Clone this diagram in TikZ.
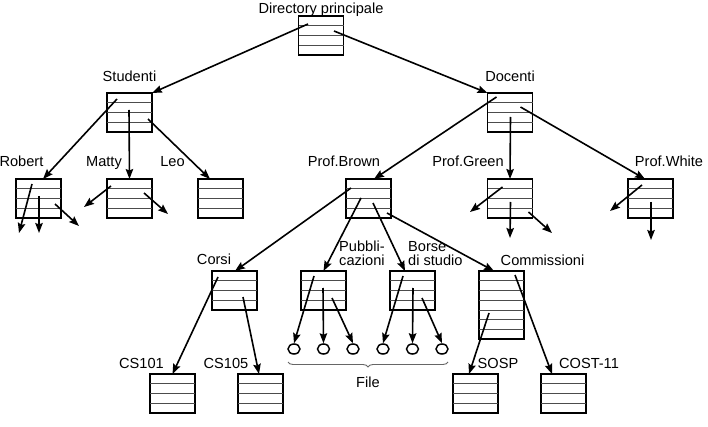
\documentclass[tikz,border=0pt]{standalone}
\usepackage{fontspec}
\setmainfont{Liberation Sans}
\usetikzlibrary{arrows.meta,shapes.geometric,decorations.pathreplacing}
\tikzset{
  dbox/.style={draw, line width=1.9pt, minimum width=45pt, inner sep=0pt, outer sep=0pt, anchor=north},
  rowline/.style={line width=0.9pt, black!70},
  link/.style={line width=1.6pt, -{Stealth[length=10pt,width=7.5pt,inset=1.5pt]}},
  lbl/.style={font=\fontsize{14.6}{14}\selectfont, inner sep=0pt, anchor=base},
  mlbl/.style={font=\fontsize{14.6}{14}\selectfont, inner sep=0pt, anchor=north west, align=left},
  fnode/.style={draw, ellipse, line width=1.5pt, minimum width=12pt, minimum height=10pt, inner sep=0pt},
  bracestyle/.style={decorate, decoration={brace, mirror, amplitude=5pt}, line width=0.9pt, black!60},
}
\newcommand\dirbox[4]{%
  \pgfmathsetmacro\bh{#4*9.75}%
  \node[dbox, minimum height=\bh pt] (#1) at (#2,#3) {};
  \pgfmathtruncatemacro\nrows{#4-1}%
  \foreach \k in {1,...,\nrows}{%
    \pgfmathsetmacro\dy{\k*9.75}%
    \draw[rowline] ([yshift=-\dy pt]#1.north west) -- ([yshift=-\dy pt]#1.north east);
  }%
}
\begin{document}
\begin{tikzpicture}[x=1pt, y=-1pt]
\useasboundingbox (0,0) rectangle (708,427);
% boxes
\dirbox{root}{321}{16}{4}
\dirbox{studenti}{129.5}{93}{4}
\dirbox{docenti}{510}{93}{4}
\dirbox{robert}{38.5}{179}{4}
\dirbox{matty}{129.5}{179}{4}
\dirbox{leo}{220.5}{179}{4}
\dirbox{brown}{368.5}{179}{4}
\dirbox{green}{510}{179}{4}
\dirbox{white}{650.5}{179}{4}
\dirbox{corsi}{234.5}{271}{4}
\dirbox{pubbl}{323.5}{271}{4}
\dirbox{borse}{412.5}{271}{4}
\dirbox{comm}{501.5}{271}{7}
\dirbox{cs101}{172.5}{374}{4}
\dirbox{cs105}{260.5}{374}{4}
\dirbox{sosp}{475.5}{374}{4}
\dirbox{cost}{563.5}{374}{4}
% files
\node[fnode] (f1) at (294,349) {};
\node[fnode] (f2) at (323.5,349) {};
\node[fnode] (f3) at (353,349) {};
\node[fnode] (f4) at (383,349) {};
\node[fnode] (f5) at (412.5,349) {};
\node[fnode] (f6) at (442,349) {};
% labels
\node[lbl] (tdir) at (321,13.5) {Directory principale};
\node[lbl] (tstud) at (129.5,81.5) {Studenti};
\node[lbl] (tdoc) at (510,81.5) {Docenti};
\node[lbl] (trob) at (21.5,167) {Robert};
\node[lbl] (tmat) at (104,167) {Matty};
\node[lbl] (tleo) at (172.5,167) {Leo};
\node[lbl] (tbrown) at (344,167) {Prof.Brown};
\node[lbl] (tgreen) at (468,167) {Prof.Green};
\node[lbl] (twhite) at (669,167) {Prof.White};
\node[lbl] (tcorsi) at (214,265) {Corsi};
\node[mlbl] (tpubbl) at (339,241) {Pubbli-\\cazioni};
\node[mlbl] (tborse) at (408,241) {Borse\\di studio};
\node[lbl] (tcomm) at (542.5,265.5) {Commissioni};
\node[lbl] (tcs101) at (141.5,368) {CS101};
\node[lbl] (tcs105) at (226,368) {CS105};
\node[lbl] (tsosp) at (498,368) {SOSP};
\node[lbl] (tcost) at (589,368) {COST-11};
\node[lbl] (tfile) at (368,387) {File};
% brace
\coordinate (brl) at (288,362);
\coordinate (brr) at (448,362);
\draw[bracestyle] (brl) -- (brr);
% free ends
\coordinate (r1) at (19,233);
\coordinate (r2) at (39,233);
\coordinate (r3) at (79,226);
\coordinate (m1) at (84,207);
\coordinate (m2) at (168,214);
\coordinate (g1) at (470,212);
\coordinate (g2) at (510,238);
\coordinate (g3) at (552,233);
\coordinate (w1) at (610,211);
\coordinate (w2) at (651,240);
% arrows
\draw[link] ([shift={(9.5,8)}]root.north west) -- (studenti.north east);
\draw[link] ([shift={(35.5,15)}]root.north west) -- (docenti.north west);
\draw[link] ([shift={(10,6)}]studenti.north west) -- ([xshift=27pt]robert.north west);
\draw[link] ([shift={(22,17)}]studenti.north west) -- (matty.north);
\draw[link] ([shift={(41,26)}]studenti.north west) -- ([xshift=12pt]leo.north west);
\draw[link] ([shift={(16,5)}]robert.north west) -- (r1);
\draw[link] ([shift={(23,17)}]robert.north west) -- (r2);
\draw[link] ([shift={(39,25)}]robert.north west) -- (r3);
\draw[link] ([shift={(4,7)}]matty.north west) -- (m1);
\draw[link] ([shift={(37,14)}]matty.north west) -- (m2);
\draw[link] ([shift={(9,4)}]docenti.north west) -- ([xshift=28pt]brown.north west);
\draw[link] ([shift={(23,24)}]docenti.north west) -- (green.north);
\draw[link] ([shift={(33,14)}]docenti.north west) -- ([xshift=17pt]white.north west);
\draw[link] ([shift={(15,8)}]green.north west) -- (g1);
\draw[link] ([shift={(23,23)}]green.north west) -- (g2);
\draw[link] ([shift={(41,33)}]green.north west) -- (g3);
\draw[link] ([shift={(14,6)}]white.north west) -- (w1);
\draw[link] ([shift={(23,23)}]white.north west) -- (w2);
\draw[link] ([shift={(5,9)}]brown.north west) -- ([xshift=23pt]corsi.north west);
\draw[link] ([shift={(15,19)}]brown.north west) -- (pubbl.north);
\draw[link] ([shift={(27,24)}]brown.north west) -- ([xshift=15pt]borse.north west);
\draw[link] ([shift={(41,34)}]brown.north west) -- ([xshift=15pt]comm.north west);
\draw[link] ([shift={(6,6)}]corsi.north west) -- (cs101.north);
\draw[link] ([shift={(31,26)}]corsi.north west) -- ([xshift=21pt]cs105.north west);
\draw[link] ([shift={(13,5)}]pubbl.north west) -- (f1.north);
\draw[link] ([shift={(22,17)}]pubbl.north west) -- (f2.north);
\draw[link] ([shift={(31,27)}]pubbl.north west) -- (f3.north);
\draw[link] ([shift={(13,5)}]borse.north west) -- (f4.north);
\draw[link] ([shift={(23,17)}]borse.north west) -- (f5.north);
\draw[link] ([shift={(32,27)}]borse.north west) -- (f6.north);
\draw[link] ([shift={(10,42)}]comm.north west) -- ([xshift=16pt]sosp.north west);
\draw[link] ([shift={(36,4)}]comm.north west) -- ([xshift=11pt]cost.north west);
\end{tikzpicture}
\end{document}
